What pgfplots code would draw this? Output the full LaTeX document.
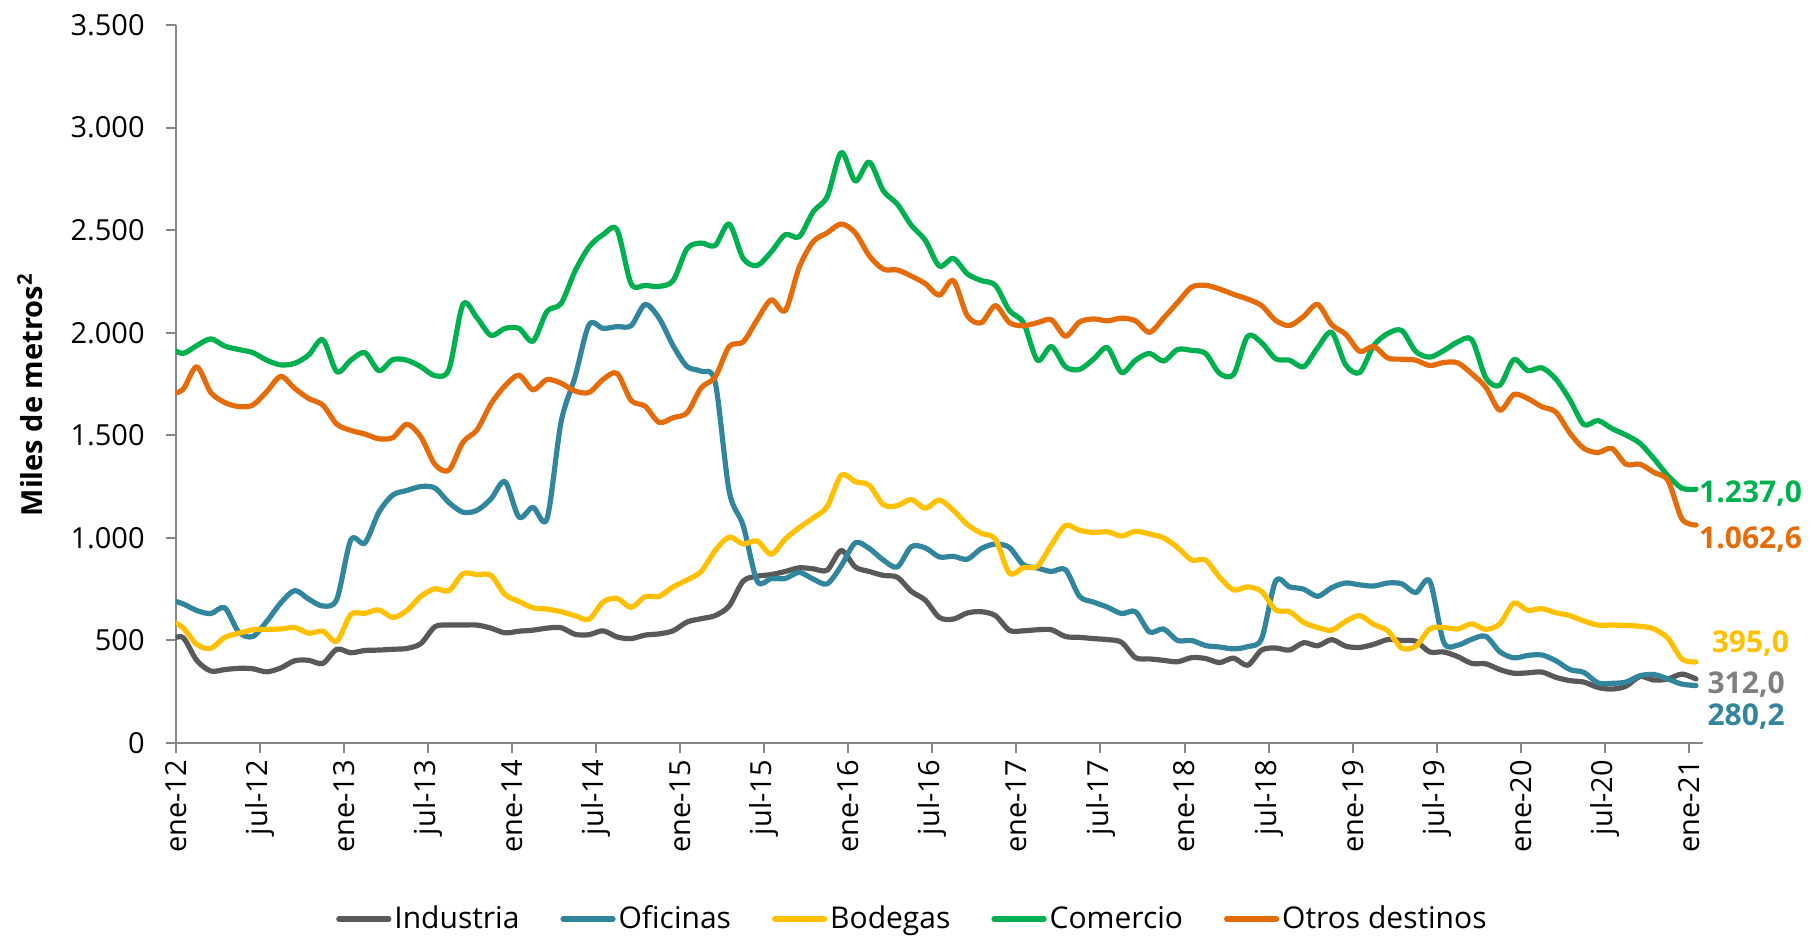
\documentclass[border=0pt]{standalone}
\usepackage{pgfplots}
\pgfplotsset{compat=1.18}
\usepackage{pgfplotstable}
\usepackage{fontspec}
\setmainfont{Open Sans}
\definecolor{cInd}{HTML}{595959}
\definecolor{cOfi}{HTML}{31859C}
\definecolor{cBod}{HTML}{FFC000}
\definecolor{cCom}{HTML}{00B050}
\definecolor{cOtr}{HTML}{E46C0A}
\definecolor{cAxis}{HTML}{868686}
\definecolor{cLblInd}{HTML}{7F7F7F}

\pgfplotstableread{
x ind ofi bod com otr
-0.5 500 700 603 1930 1700
0.5 515 679 563 1899 1722
1.5 403 646 481 1937 1834
2.5 351 631 461 1970 1709
3.5 358 659 515 1935 1660
4.5 364 541 535 1918 1640
5.5 362 519 552 1903 1647
6.5 347 593 554 1866 1713
7.5 366 683 556 1843 1787
8.5 401 743 563 1851 1728
9.5 403 701 535 1892 1679
10.5 388 668 545 1966 1647
11.5 457 701 496 1810 1554
12.5 440 990 627 1866 1524
13.5 451 975 632 1903 1506
14.5 453 1125 649 1815 1483
15.5 457 1209 612 1869 1489
16.5 461 1231 646 1866 1554
17.5 485 1250 715 1834 1492
18.5 567 1243 752 1791 1358
19.5 575 1172 743 1821 1330
20.5 575 1125 825 2138 1466
21.5 575 1134 821 2073 1526
22.5 560 1190 817 1987 1653
23.5 537 1274 724 2021 1741
24.5 545 1101 690 2021 1793
25.5 550 1149 659 1959 1722
26.5 560 1093 653 2104 1772
27.5 562 1563 640 2142 1754
28.5 530 1784 621 2300 1716
29.5 528 2039 603 2418 1709
30.5 547 2021 687 2478 1772
31.5 517 2030 705 2502 1802
32.5 509 2034 661 2239 1670
33.5 526 2138 713 2231 1642
34.5 532 2071 715 2226 1563
35.5 547 1937 761 2254 1586
36.5 590 1835 795 2410 1610
37.5 606 1812 836 2437 1731
38.5 621 1759 938 2425 1784
39.5 668 1228 1004 2530 1933
40.5 789 1060 970 2362 1955
41.5 813 789 985 2328 2063
42.5 821 802 920 2394 2160
43.5 836 802 994 2478 2108
44.5 854 832 1050 2468 2319
45.5 849 799 1097 2590 2444
46.5 843 776 1153 2664 2487
47.5 938 864 1306 2879 2530
48.5 858 976 1274 2739 2487
49.5 836 948 1256 2832 2375
50.5 817 892 1162 2692 2310
51.5 808 858 1157 2627 2306
52.5 739 957 1187 2524 2276
53.5 696 951 1144 2450 2239
54.5 612 907 1185 2325 2183
55.5 604 910 1134 2362 2254
56.5 634 896 1065 2287 2082
57.5 640 948 1022 2254 2049
58.5 621 970 994 2231 2132
59.5 549 953 827 2108 2049
60.5 547 869 855 2049 2034
61.5 552 853 862 1866 2049
62.5 552 836 966 1933 2063
63.5 519 845 1060 1834 1983
64.5 515 715 1037 1821 2052
65.5 509 687 1026 1871 2067
66.5 504 662 1030 1927 2058
67.5 491 631 1009 1806 2071
68.5 416 640 1032 1866 2058
69.5 410 541 1019 1899 2002
70.5 403 556 1000 1862 2071
71.5 396 500 953 1918 2147
72.5 416 500 892 1914 2222
73.5 412 475 892 1899 2231
74.5 392 468 808 1802 2213
75.5 414 459 746 1797 2187
76.5 379 470 761 1983 2164
77.5 453 509 739 1951 2132
78.5 463 789 649 1873 2060
79.5 453 761 640 1866 2035
80.5 489 750 588 1834 2080
81.5 474 715 563 1927 2138
82.5 504 757 550 2002 2039
83.5 472 780 593 1843 1993
84.5 466 771 621 1806 1909
85.5 481 765 578 1937 1933
86.5 504 780 547 1996 1877
87.5 500 776 463 2011 1871
88.5 496 733 472 1909 1866
89.5 444 789 556 1881 1840
90.5 444 491 563 1913 1855
91.5 421 477 556 1955 1853
92.5 388 506 581 1966 1800
93.5 386 520 554 1780 1734
94.5 358 445 581 1744 1622
95.5 340 415 682 1869 1699
96.5 342 427 647 1815 1679
97.5 346 429 655 1829 1639
98.5 320 401 635 1774 1613
99.5 304 358 621 1673 1511
100.5 297 344 595 1552 1436
101.5 271 293 575 1572 1416
102.5 263 291 575 1533 1436
103.5 277 297 573 1501 1359
104.5 324 328 569 1461 1359
105.5 307 334 556 1386 1319
106.5 312 312 510 1303 1279
107.5 336 287 409 1242 1092
108.5 312.0 280.2 395.0 1237.0 1062.6
}\datatable

\begin{document}
\begin{tikzpicture}[font=\fontsize{14.5}{17}\selectfont]
\begin{axis}[
  at={(0pt,0pt)}, anchor=south west,
  scale only axis, width=763.65pt, height=359pt,
  xmin=0, xmax=109, ymin=0, ymax=3500,
  axis x line*=bottom, axis y line*=left,
  axis line style={cAxis, line width=1pt, -},
  xtick={0,6,...,108},
  xticklabels={ene-12,jul-12,ene-13,jul-13,ene-14,jul-14,ene-15,jul-15,ene-16,jul-16,ene-17,jul-17,ene-18,jul-18,ene-19,jul-19,ene-20,jul-20,ene-21},
  xticklabel style={rotate=90, anchor=east, text=black},
  ytick={0,500,...,3500},
  yticklabel style={text=black, xshift=-7pt},
  scaled y ticks=false,
  /pgf/number format/1000 sep={.},
  /pgf/number format/assume math mode=true,
  tick style={cAxis, line width=1pt},
  tick align=outside, major tick length=5pt,
  ylabel={\bfseries Miles de metros\textsuperscript{2}},
  every axis y label/.style={at={(axis description cs:-0.0954,0.485)}, rotate=90, anchor=center},
  legend columns=-1,
  legend style={at={(0.4827,-0.245)}, anchor=center, draw=none,
    font=\fontsize{15}{18}\selectfont,
    /tikz/every even column/.append style={column sep=19pt},
    nodes={inner sep=1.5pt}},
  legend image code/.code={\draw[#1, line width=2.6pt] (0pt,0pt) -- (25pt,0pt);},
  clip mode=individual,
  every axis plot/.append style={line width=2.6pt, smooth, tension=0.5, line join=round, line cap=round},
]
\addplot[cInd] table[x=x, y=ind]{\datatable};
\addplot[cOfi] table[x=x, y=ofi]{\datatable};
\addplot[cBod] table[x=x, y=bod]{\datatable};
\addplot[cCom] table[x=x, y=com]{\datatable};
\addplot[cOtr] table[x=x, y=otr]{\datatable};
\legend{Industria,Oficinas,Bodegas,Comercio,Otros destinos}
\node[anchor=west, inner sep=0pt, text=cCom, font=\fontsize{15}{18}\selectfont\bfseries] at (axis cs:108.7,1215) {1.237,0};
\node[anchor=west, inner sep=0pt, text=cOtr, font=\fontsize{15}{18}\selectfont\bfseries] at (axis cs:108.7,993) {1.062,6};
\node[anchor=west, inner sep=0pt, text=cBod, font=\fontsize{15}{18}\selectfont\bfseries] at (axis cs:109.6,483) {395,0};
\node[anchor=west, inner sep=0pt, text=cLblInd, font=\fontsize{15}{18}\selectfont\bfseries] at (axis cs:109.3,286) {312,0};
\node[anchor=west, inner sep=0pt, text=cOfi, font=\fontsize{15}{18}\selectfont\bfseries] at (axis cs:109.3,127) {280,2};
\end{axis}
\pgfresetboundingbox
\path[use as bounding box] (-87.85pt,-98pt) rectangle (818.15pt,371.5pt);
\end{tikzpicture}
\end{document}
